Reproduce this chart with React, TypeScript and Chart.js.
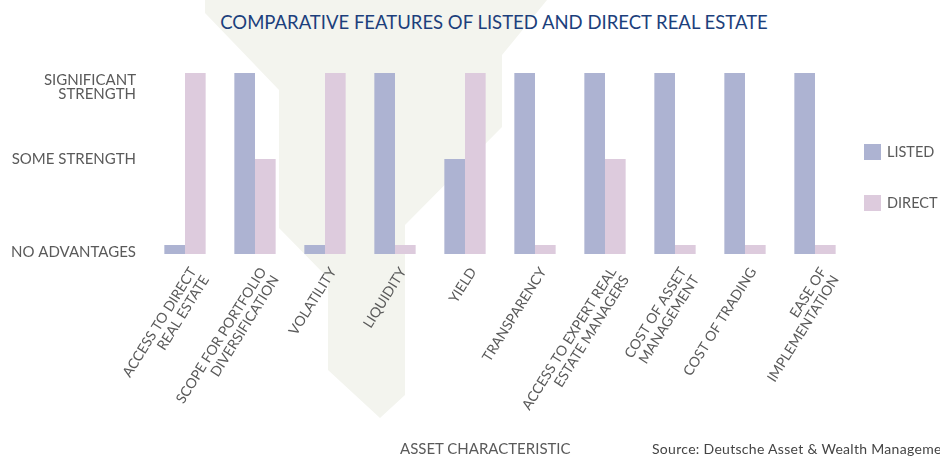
import React, { useEffect, useRef } from "react";
import { Chart, registerables } from "chart.js";
Chart.register(...registerables);

const categories: (string | string[])[] = [
  ["ACCESS TO DIRECT", "REAL ESTATE"],
  ["SCOPE FOR PORTFOLIO", "DIVERSIFICATION"],
  "VOLATILITY",
  "LIQUIDITY",
  "YIELD",
  "TRANSPARENCY",
  ["ACCESS TO EXPERT REAL", "ESTATE MANAGERS"],
  ["COST OF ASSET", "MANAGEMENT"],
  "COST OF TRADING",
  ["EASE OF", "IMPLEMENTATION"],
];

// 1 = no advantages, 2 = some strength, 3 = significant strength
const listedValues = [1, 3, 1, 3, 2, 3, 3, 3, 3, 3];
const directValues = [3, 2, 3, 1, 3, 1, 2, 1, 1, 1];

const levelValues = [1, 2, 3];
const levelLabels: string[][] = [
  ["", "NO ADVANTAGES"],
  ["SOME STRENGTH"],
  ["", "", "SIGNIFICANT", "STRENGTH"],
];

const seriesNames = ["LISTED", "DIRECT"];
const seriesColors = ["#adb3d2", "#ddcbdd"];

const TITLE = "COMPARATIVE FEATURES OF LISTED AND DIRECT REAL ESTATE";
const X_TITLE = "ASSET CHARACTERISTIC";
const SOURCE = "Source: Deutsche Asset & Wealth Management";

const FONT = "Lato, 'Open Sans', sans-serif";

export default function App() {
  const ref = useRef<HTMLCanvasElement>(null);
  useEffect(() => {
    document.body.style.margin = "0";
    const chart = new Chart(ref.current!, {
      type: "bar",
      data: {
        labels: categories,
        datasets: [
          { label: seriesNames[0], data: listedValues, backgroundColor: seriesColors[0] },
          { label: seriesNames[1], data: directValues, backgroundColor: seriesColors[1] },
        ],
      },
      options: {
        animation: false,
        responsive: false,
        layout: { padding: { left: 0, right: 90, top: 73, bottom: 0 } },
        datasets: { bar: { categoryPercentage: 0.59, barPercentage: 1 } },
        plugins: { legend: { display: false }, tooltip: { enabled: false }, title: { display: false } },
        scales: {
          x: {
            grid: { display: false, drawTicks: false },
            border: { display: false },
            ticks: {
              autoSkip: false,
              minRotation: 58,
              maxRotation: 58,
              padding: 11,
              labelOffset: 8,
              color: "#5a5a5a",
              font: { family: FONT, size: 14, lineHeight: 1.07 },
            },
            afterFit: (s: any) => { s.height = 456 - 254; },
          },
          y: {
            min: 0.895,
            max: 3,
            grid: { display: false, drawTicks: false },
            border: { display: false },
            afterBuildTicks: (s: any) => { s.ticks = levelValues.map((v) => ({ value: v })); },
            ticks: {
              padding: 14,
              color: "#5a5a5a",
              font: { family: FONT, size: 15, lineHeight: 0.94 },
              callback: (v: any) => {
                const i = levelValues.indexOf(Number(v));
                return i >= 0 ? levelLabels[i] : "";
              },
            },
            afterFit: (s: any) => { s.width = 150; },
          },
        },
      },
    });
    return () => chart.destroy();
  }, []);

  const text: React.CSSProperties = { position: "absolute", fontFamily: FONT, whiteSpace: "nowrap", lineHeight: 1 };
  return (
    <div style={{ position: "relative", width: 940, height: 456, overflow: "hidden", background: "#fff" }}>
      <svg width={940} height={456} style={{ position: "absolute", left: 0, top: 0 }}>
        <polygon
          points="205,0 547,0 502,55 502,127 405,225 405,395 380,418 328,370 328,278 279,228 279,90 205,13"
          fill="#f3f4ee"
        />
      </svg>
      <div style={{ ...text, left: 0, width: 988, top: 13, textAlign: "center", color: "#1c3f7c", fontSize: 18.5 }}>{TITLE}</div>
      <canvas ref={ref} width={940} height={456} style={{ position: "absolute", left: 0, top: 0 }} />
      <div style={{ position: "absolute", left: 864, top: 144, width: 17, height: 16, background: seriesColors[0] }} />
      <div style={{ ...text, left: 887, top: 145, fontSize: 14.5, color: "#5a5a5a" }}>{seriesNames[0]}</div>
      <div style={{ position: "absolute", left: 864, top: 195, width: 17, height: 16, background: seriesColors[1] }} />
      <div style={{ ...text, left: 887, top: 196, fontSize: 14.5, color: "#5a5a5a" }}>{seriesNames[1]}</div>
      <div style={{ ...text, left: 400, top: 441, fontSize: 15, color: "#5a5a5a" }}>{X_TITLE}</div>
      <div style={{ ...text, left: 652, top: 442, fontSize: 14, color: "#444", letterSpacing: 0.3 }}>{SOURCE}</div>
    </div>
  );
}
